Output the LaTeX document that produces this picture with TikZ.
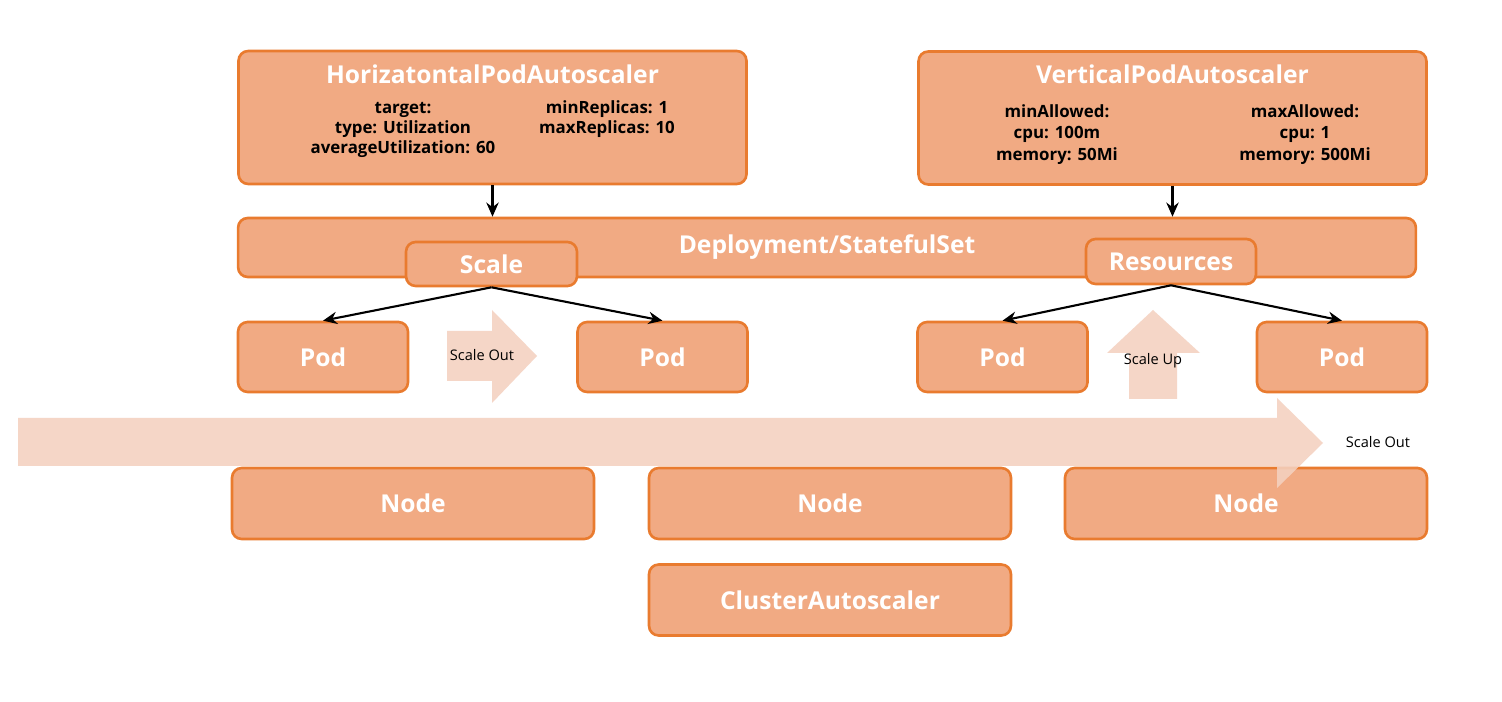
\documentclass[tikz,border=0pt]{standalone}
\usepackage{fontspec}
\setmainfont{Open Sans}[BoldFont={Open Sans Bold}]
\usetikzlibrary{arrows.meta}
\definecolor{boxfill}{HTML}{F1AA83}
\definecolor{boxline}{HTML}{E97B2F}
\definecolor{arrowfill}{HTML}{F4D1C0}
\tikzset{
  box/.style={draw=boxline, fill=boxfill, line width=1.5pt, rounded corners=5.5pt,
              text=white, font=\bfseries\fontsize{14}{16}\selectfont, inner sep=0pt},
  title/.style={text=white, font=\bfseries\fontsize{14}{16}\selectfont, inner sep=0pt},
  detail/.style={text=black, align=center, font=\bfseries\fontsize{9.6}{11.4}\selectfont, inner sep=0pt},
  vdetail/.style={text=black, align=center, font=\bfseries\fontsize{9.6}{12.2}\selectfont, inner sep=0pt},
  conn/.style={-{Stealth[length=8pt,width=7pt]}, line width=1.2pt, black},
  lbl/.style={text=black, font=\fontsize{8.3}{10}\selectfont, inner sep=0pt},
  bigarrow/.style={fill=arrowfill, fill opacity=0.88, draw=none},
}
\begin{document}
\begin{tikzpicture}[x=0.02cm, y=-0.02cm]
\useasboundingbox (0,0) rectangle (1502,702);
\fill[white] (0,0) rectangle (1502,702);

% autoscaler boxes
\node[box, minimum width=10.16cm, minimum height=2.66cm] (hpa) at (492.5,117.5) {};
\node[box, minimum width=10.16cm, minimum height=2.66cm] (vpa) at (1172.5,118) {};
\node[title] (hpatitle) at (492.5,74) {HorizatontalPodAutoscaler};
\node[title] (vpatitle) at (1172.5,74) {VerticalPodAutoscaler};
\node[detail] (hpaleft) at (403,129.5) {target:\\type: Utilization\\averageUtilization: 60};
\node[detail] (hparight) at (607,119.5) {minReplicas: 1\\maxReplicas: 10};
\node[vdetail] (vpaleft) at (1057,134.5) {minAllowed:\\cpu: 100m\\memory: 50Mi};
\node[vdetail] (vparight) at (1305,134.5) {maxAllowed:\\cpu: 1\\memory: 500Mi};

% deployment
\node[box, minimum width=23.56cm, minimum height=1.18cm] (deploy) at (827,247.5) {};
\node[title] (deploytext) at (827,247) {Deployment/StatefulSet};
\node[box, minimum width=3.42cm, minimum height=0.88cm] (scale) at (491.5,264) {Scale};
\node[box, minimum width=3.40cm, minimum height=0.90cm] (res) at (1171,261.5) {Resources};

% pods
\node[box, minimum width=3.40cm, minimum height=1.40cm] (pod1) at (323,357) {Pod};
\node[box, minimum width=3.40cm, minimum height=1.40cm] (pod2) at (662.5,357) {Pod};
\node[box, minimum width=3.40cm, minimum height=1.40cm] (pod3) at (1002.5,357) {Pod};
\node[box, minimum width=3.40cm, minimum height=1.40cm] (pod4) at (1342,357) {Pod};

% nodes
\node[box, minimum width=7.24cm, minimum height=1.42cm] (node1) at (413,503.5) {Node};
\node[box, minimum width=7.24cm, minimum height=1.42cm] (node2) at (830,503.5) {Node};
\node[box, minimum width=7.24cm, minimum height=1.42cm] (node3) at (1246,503.5) {Node};
\node[box, minimum width=7.24cm, minimum height=1.42cm] (ca) at (830,600) {ClusterAutoscaler};

% connectors
\draw[conn] (hpa.south) -- (hpa.south |- deploy.north);
\draw[conn] (vpa.south) -- (vpa.south |- deploy.north);
\draw[conn] (scale.south) -- (pod1.north);
\draw[conn] (scale.south) -- (pod2.north);
\draw[conn] (res.south) -- (pod3.north);
\draw[conn] (res.south) -- (pod4.north);

% block arrows
\fill[bigarrow] (447,331) -- (492,331) -- (492,310) -- (537,356) -- (492,403) -- (492,381) -- (447,381) -- cycle;
\fill[bigarrow] (1129,399) -- (1129,353) -- (1107,353) -- (1153,310) -- (1200,353) -- (1177,353) -- (1177,399) -- cycle;
\fill[bigarrow] (18,418) -- (1277,418) -- (1277,398) -- (1323,443) -- (1277,488) -- (1277,466) -- (18,466) -- cycle;

\node[lbl] (soleft) at (482,355) {Scale Out};
\node[lbl] (su) at (1153,361) {Scale Up};
\node[lbl] (soright) at (1378,442) {Scale Out};
\end{tikzpicture}
\end{document}
